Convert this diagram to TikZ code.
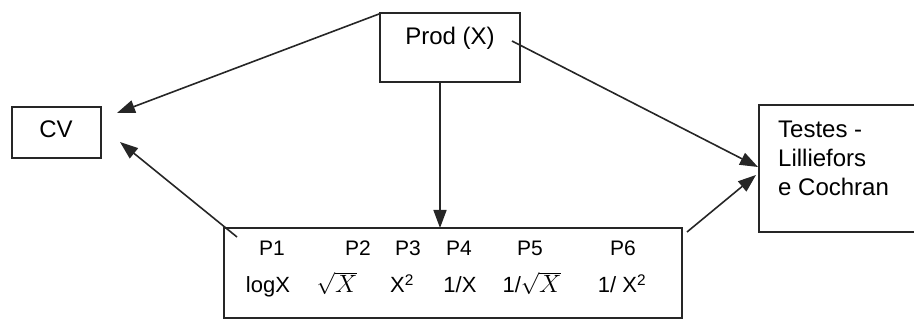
\documentclass[tikz,border=0pt]{standalone}
\usepackage{fix-cm}
\usepackage{fontspec}
\setmainfont{Liberation Sans}
\usetikzlibrary{arrows.meta}
\begin{document}
\begin{tikzpicture}[x=1pt,y=-1pt,
  box/.style={draw=black!85,line width=1.5pt,inner sep=0pt},
  conn/.style={draw=black!85,line width=1.6pt,-{Triangle[length=18pt,width=13pt]}},
  big/.style={font=\fontsize{24}{29}\selectfont,inner sep=0pt},
  lab/.style={font=\fontsize{21}{25}\selectfont,inner sep=0pt,anchor=base},
  frm/.style={font=\fontsize{22}{26}\selectfont,inner sep=0pt,anchor=base}
]
\useasboundingbox (0,0) rectangle (914,320);
\clip (0,0) rectangle (914,320);
% boxes
\node[box,minimum width=140pt,minimum height=69pt] (prod) at (450,47.5) {};
\node[box,minimum width=89pt,minimum height=51pt] (cv) at (56.5,132.5) {};
\node[box,minimum width=458pt,minimum height=90pt] (bot) at (453,273) {};
\node[box,minimum width=171pt,minimum height=127pt] (tst) at (844.5,168.5) {};
% texts
\node[big,anchor=base] (prodt) at (450,45) {Prod (X)};
\node[big,anchor=base] (cvt) at (56,138) {CV};
\node[big,anchor=north west,align=left] (tstt) at (778,121) {Testes -\\Lilliefors\\e Cochran};
\node[lab] (p1) at (272,256) {P1};
\node[lab] (p2) at (358,256) {P2};
\node[lab] (p3) at (408,256) {P3};
\node[lab] (p4) at (459,256) {P4};
\node[lab] (p5) at (530,256) {P5};
\node[lab] (p6) at (623,256) {P6};
\node[frm] (f1) at (268,293) {logX};
\node[frm] (f2) at (337,293) {$\sqrt{\mbox{\fontsize{25}{30}\selectfont$X$}}$};
\node[frm] (f3) at (402,293) {X\textsuperscript{2}};
\node[frm] (f4) at (460,293) {1/X};
\node[frm] (f5) at (532,293) {1/$\sqrt{\mbox{\fontsize{25}{30}\selectfont$X$}}$};
\node[frm] (f6) at (622,293) {1/ X\textsuperscript{2}};
% connector end points
\coordinate (s1) at (379,14);
\coordinate (t1) at (117,113);
\coordinate (s2) at (237,237);
\coordinate (t2) at (120,142);
\coordinate (s3) at (440,82);
\coordinate (t3) at (440,228);
\coordinate (s4) at (512,41);
\coordinate (t4) at (758,167);
\coordinate (s5) at (687,232);
\coordinate (t5) at (756,175);
\draw[conn] (s1) -- (t1);
\draw[conn] (s2) -- (t2);
\draw[conn] (s3) -- (t3);
\draw[conn] (s4) -- (t4);
\draw[conn] (s5) -- (t5);
\end{tikzpicture}
\end{document}
